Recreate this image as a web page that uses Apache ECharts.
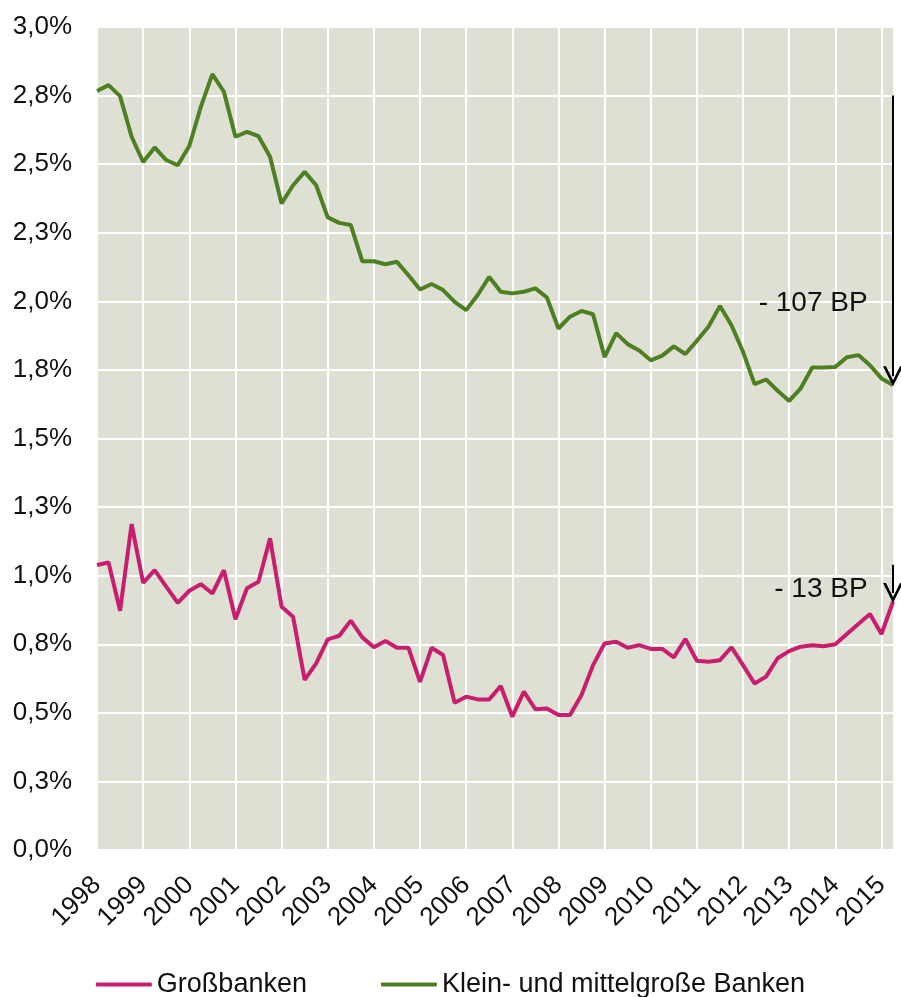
<!DOCTYPE html>
<html>
<head>
<meta charset="utf-8">
<script src="https://cdn.jsdelivr.net/npm/echarts@6/dist/echarts.min.js"></script>
<style>
  html, body { margin: 0; padding: 0; background: #fff; }
  #chart { width: 901px; height: 997px; }
</style>
</head>
<body>
<div id="chart"></div>
<script>
// Jahre der x-Achse (Quartalswerte, erster Wert 1998 Q1, letzter 2015 Q2)
var years = [1998, 1999, 2000, 2001, 2002, 2003, 2004, 2005, 2006, 2007, 2008,
  2009, 2010, 2011, 2012, 2013, 2014, 2015];
var quarterCount = 70;

// Beschriftung der y-Achse (Schritt 0,25 %)
var yTickLabels = ['0,0%', '0,3%', '0,5%', '0,8%', '1,0%', '1,3%', '1,5%',
  '1,8%', '2,0%', '2,3%', '2,5%', '2,8%', '3,0%'];

// Großbanken
var grossbanken = [
  1.039, 1.048, 0.872, 1.188, 0.974, 1.020, 0.960, 0.901, 0.945, 0.969,
  0.935, 1.020, 0.841, 0.954, 0.978, 1.136, 0.887, 0.850, 0.620, 0.680,
  0.768, 0.781, 0.836, 0.775, 0.739, 0.762, 0.737, 0.737, 0.613, 0.737,
  0.711, 0.537, 0.559, 0.549, 0.549, 0.598, 0.486, 0.577, 0.513, 0.516,
  0.492, 0.492, 0.565, 0.674, 0.753, 0.759, 0.737, 0.747, 0.733, 0.733,
  0.702, 0.769, 0.690, 0.686, 0.692, 0.739, 0.674, 0.607, 0.632, 0.699,
  0.725, 0.741, 0.746, 0.743, 0.750, 0.787, 0.824, 0.860, 0.787, 0.905
];

// Klein- und mittelgroße Banken
var kleinMittel = [
  2.767, 2.788, 2.748, 2.600, 2.508, 2.561, 2.515, 2.496, 2.566, 2.709,
  2.828, 2.764, 2.600, 2.618, 2.602, 2.527, 2.357, 2.423, 2.472, 2.423,
  2.306, 2.286, 2.278, 2.146, 2.146, 2.135, 2.144, 2.095, 2.043, 2.063,
  2.041, 1.998, 1.968, 2.023, 2.089, 2.035, 2.029, 2.035, 2.047, 2.014,
  1.901, 1.944, 1.965, 1.953, 1.797, 1.884, 1.844, 1.821, 1.785, 1.802,
  1.836, 1.808, 1.856, 1.907, 1.983, 1.913, 1.816, 1.698, 1.715, 1.674,
  1.637, 1.683, 1.759, 1.759, 1.761, 1.796, 1.804, 1.767, 1.719, 1.695
];

// Pfeile: Start- und Endwert (Mitte des Pfeilkopfs), Text
var arrowKlein = [2.75, 1.727];
var arrowGross = [1.04, 0.937];
var labelKlein = { text: '- 107 BP', value: 1.993 };
var labelGross = { text: '- 13 BP', value: 0.948 };

var categories = [];
years.forEach(function (y) {
  for (var q = 1; q <= 4; q++) categories.push(y + ' Q' + q);
});
categories = categories.slice(0, quarterCount);
var lastCat = categories[categories.length - 1];
var labelCat = categories[categories.length - 3];

var fontFamily = "'Liberation Sans', Arial, sans-serif";
var green = '#4f7f23';
var magenta = '#c81e6e';
// offener Pfeilkopf
var chevron = 'path://M0,20 L10,0 L20,20 L17,20 L10,6 L3,20 Z';

var myChart = echarts.init(document.getElementById('chart'));
myChart.setOption({
  animation: false,
  textStyle: { fontFamily: fontFamily },
  grid: {
    left: 97,
    right: 8,
    top: 27,
    bottom: 147,
    show: true,
    backgroundColor: '#dde0d2',
    borderWidth: 0
  },
  legend: {
    top: 966,
    left: 'center',
    itemGap: 74,
    itemWidth: 56,
    itemHeight: 4,
    icon: 'roundRect',
    textStyle: { fontSize: 27, color: '#111' },
    data: ['Großbanken', 'Klein- und mittelgroße Banken']
  },
  xAxis: {
    type: 'category',
    data: categories,
    boundaryGap: false,
    axisLine: { show: false },
    axisTick: { show: false },
    axisLabel: {
      interval: 3,
      rotate: 45,
      margin: 31,
      fontSize: 26,
      color: '#111',
      formatter: function (v) { return v.slice(0, 4); }
    },
    splitLine: {
      show: true,
      interval: 3,
      lineStyle: { color: '#ffffff', width: 2 }
    }
  },
  yAxis: {
    type: 'value',
    min: 0,
    max: 3,
    interval: 0.25,
    axisLine: { show: false },
    axisTick: { show: false },
    axisLabel: {
      margin: 25,
      fontSize: 26,
      color: '#111',
      formatter: function (v) { return yTickLabels[Math.round(v / 0.25)]; }
    },
    splitLine: { lineStyle: { color: '#ffffff', width: 2 } }
  },
  series: [
    {
      name: 'Großbanken',
      type: 'line',
      data: grossbanken,
      showSymbol: false,
      color: magenta,
      lineStyle: { width: 4, color: magenta },
      markLine: {
        silent: true,
        symbol: ['none', chevron],
        symbolSize: [20, 20],
        label: { show: false },
        lineStyle: { type: 'solid', color: '#000', width: 2 },
        data: [[{ coord: [lastCat, arrowGross[0]] }, { coord: [lastCat, arrowGross[1]] }]]
      },
      markPoint: {
        silent: true,
        symbolSize: 1,
        itemStyle: { color: 'rgba(0,0,0,0)' },
        label: {
          show: true, position: 'left', distance: 2,
          fontSize: 28, color: '#111', formatter: labelGross.text
        },
        data: [{ coord: [labelCat, labelGross.value] }]
      }
    },
    {
      name: 'Klein- und mittelgroße Banken',
      type: 'line',
      data: kleinMittel,
      showSymbol: false,
      color: green,
      lineStyle: { width: 4, color: green },
      markLine: {
        silent: true,
        symbol: ['none', chevron],
        symbolSize: [20, 20],
        label: { show: false },
        lineStyle: { type: 'solid', color: '#000', width: 2 },
        data: [[{ coord: [lastCat, arrowKlein[0]] }, { coord: [lastCat, arrowKlein[1]] }]]
      },
      markPoint: {
        silent: true,
        symbolSize: 1,
        itemStyle: { color: 'rgba(0,0,0,0)' },
        label: {
          show: true, position: 'left', distance: 2,
          fontSize: 28, color: '#111', formatter: labelKlein.text
        },
        data: [{ coord: [labelCat, labelKlein.value] }]
      }
    }
  ]
});
</script>
</body>
</html>
